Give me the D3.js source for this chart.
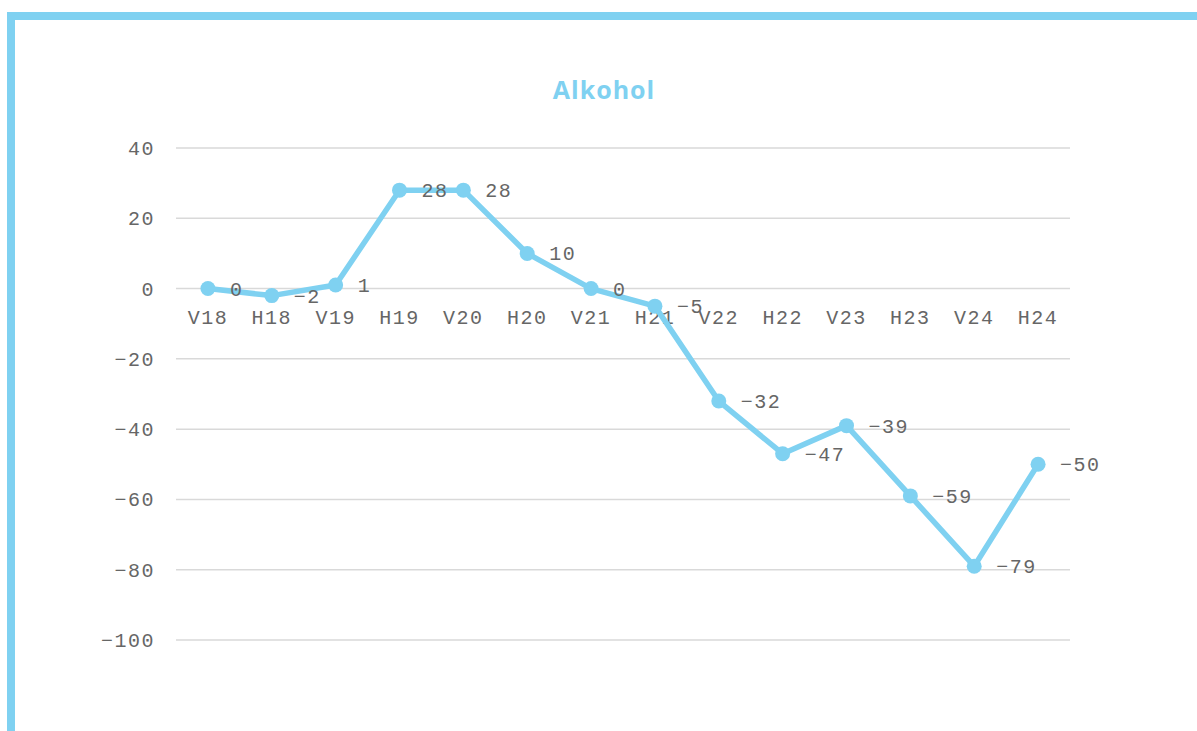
<!DOCTYPE html>
<html>
<head>
<meta charset="utf-8">
<script src="https://cdn.jsdelivr.net/npm/d3@7"></script>
<style>
  body { margin: 0; background: #fff; }
  text { font-family: "Liberation Mono", "DejaVu Sans Mono", monospace; }
</style>
</head>
<body>
<script>
// data
var categories = ["V18", "H18", "V19", "H19", "V20", "H20", "V21", "H21", "V22", "H22", "V23", "H23", "V24", "H24"];
var values = [0, -2, 1, 28, 28, 10, 0, -5, -32, -47, -39, -59, -79, -50];
var yTicks = [40, 20, 0, -20, -40, -60, -80, -100];
var title = "Alkohol";

var W = 1197, H = 731;
var blue = "#7fd1f1";
var textCol = "#666666";

var svg = d3.select("body").append("svg")
    .attr("width", W)
    .attr("height", H);

// frame (top and left bands)
svg.append("rect").attr("x", 7).attr("y", 12).attr("width", W - 7).attr("height", 8).style("fill", blue);
svg.append("rect").attr("x", 7).attr("y", 12).attr("width", 8).attr("height", H - 12).style("fill", blue);

// scales
var x = d3.scaleBand().domain(categories).range([176, 1070]);
var y = d3.scaleLinear().domain([-100, 40]).range([640, 148]);

// title
svg.append("text")
    .attr("x", 604)
    .attr("y", 99)
    .attr("text-anchor", "middle")
    .style("font-family", "'Open Sans', sans-serif")
    .style("font-weight", "bold")
    .style("font-size", "25px")
    .style("letter-spacing", "1px")
    .style("fill", blue)
    .text(title);

// gridlines
svg.append("g").selectAll("line")
    .data(yTicks)
  .enter().append("line")
    .attr("x1", 176).attr("x2", 1070)
    .attr("y1", function(d) { return y(d); })
    .attr("y2", function(d) { return y(d); })
    .style("stroke", "#d9d9d9")
    .style("stroke-width", 1.5);

// y axis labels
var fmt = d3.format("d");
svg.append("g").selectAll("text")
    .data(yTicks)
  .enter().append("text")
    .attr("x", 155)
    .attr("y", function(d) { return y(d); })
    .attr("dy", "0.35em")
    .attr("text-anchor", "end")
    .style("font-size", "20px")
    .style("letter-spacing", "1.5px")
    .style("fill", textCol)
    .text(function(d) { return fmt(d); });

// x axis labels
svg.append("g").selectAll("text")
    .data(categories)
  .enter().append("text")
    .attr("x", function(d) { return x(d) + x.bandwidth() / 2; })
    .attr("y", y(0) + 28)
    .attr("dy", "0.35em")
    .attr("text-anchor", "middle")
    .style("font-size", "20px")
    .style("letter-spacing", "1.5px")
    .style("fill", textCol)
    .text(function(d) { return d; });

var data = categories.map(function(c, i) { return {cat: c, val: values[i]}; });

// line
var valueline = d3.line()
    .x(function(d) { return x(d.cat) + x.bandwidth() / 2; })
    .y(function(d) { return y(d.val); });

svg.append("path")
    .data([data])
    .style("stroke", blue)
    .style("stroke-width", 5.5)
    .style("stroke-linejoin", "round")
    .style("fill", "none")
    .attr("d", valueline);

// markers
svg.append("g").selectAll("circle")
    .data(data)
  .enter().append("circle")
    .attr("cx", function(d) { return x(d.cat) + x.bandwidth() / 2; })
    .attr("cy", function(d) { return y(d.val); })
    .attr("r", 7.5)
    .style("fill", blue);

// data labels
svg.append("g").selectAll("text")
    .data(data)
  .enter().append("text")
    .attr("x", function(d) { return x(d.cat) + x.bandwidth() / 2 + 22; })
    .attr("y", function(d) { return y(d.val); })
    .attr("dy", "0.35em")
    .style("font-size", "20px")
    .style("letter-spacing", "1.5px")
    .style("fill", textCol)
    .text(function(d) { return fmt(d.val); });
</script>
</body>
</html>
